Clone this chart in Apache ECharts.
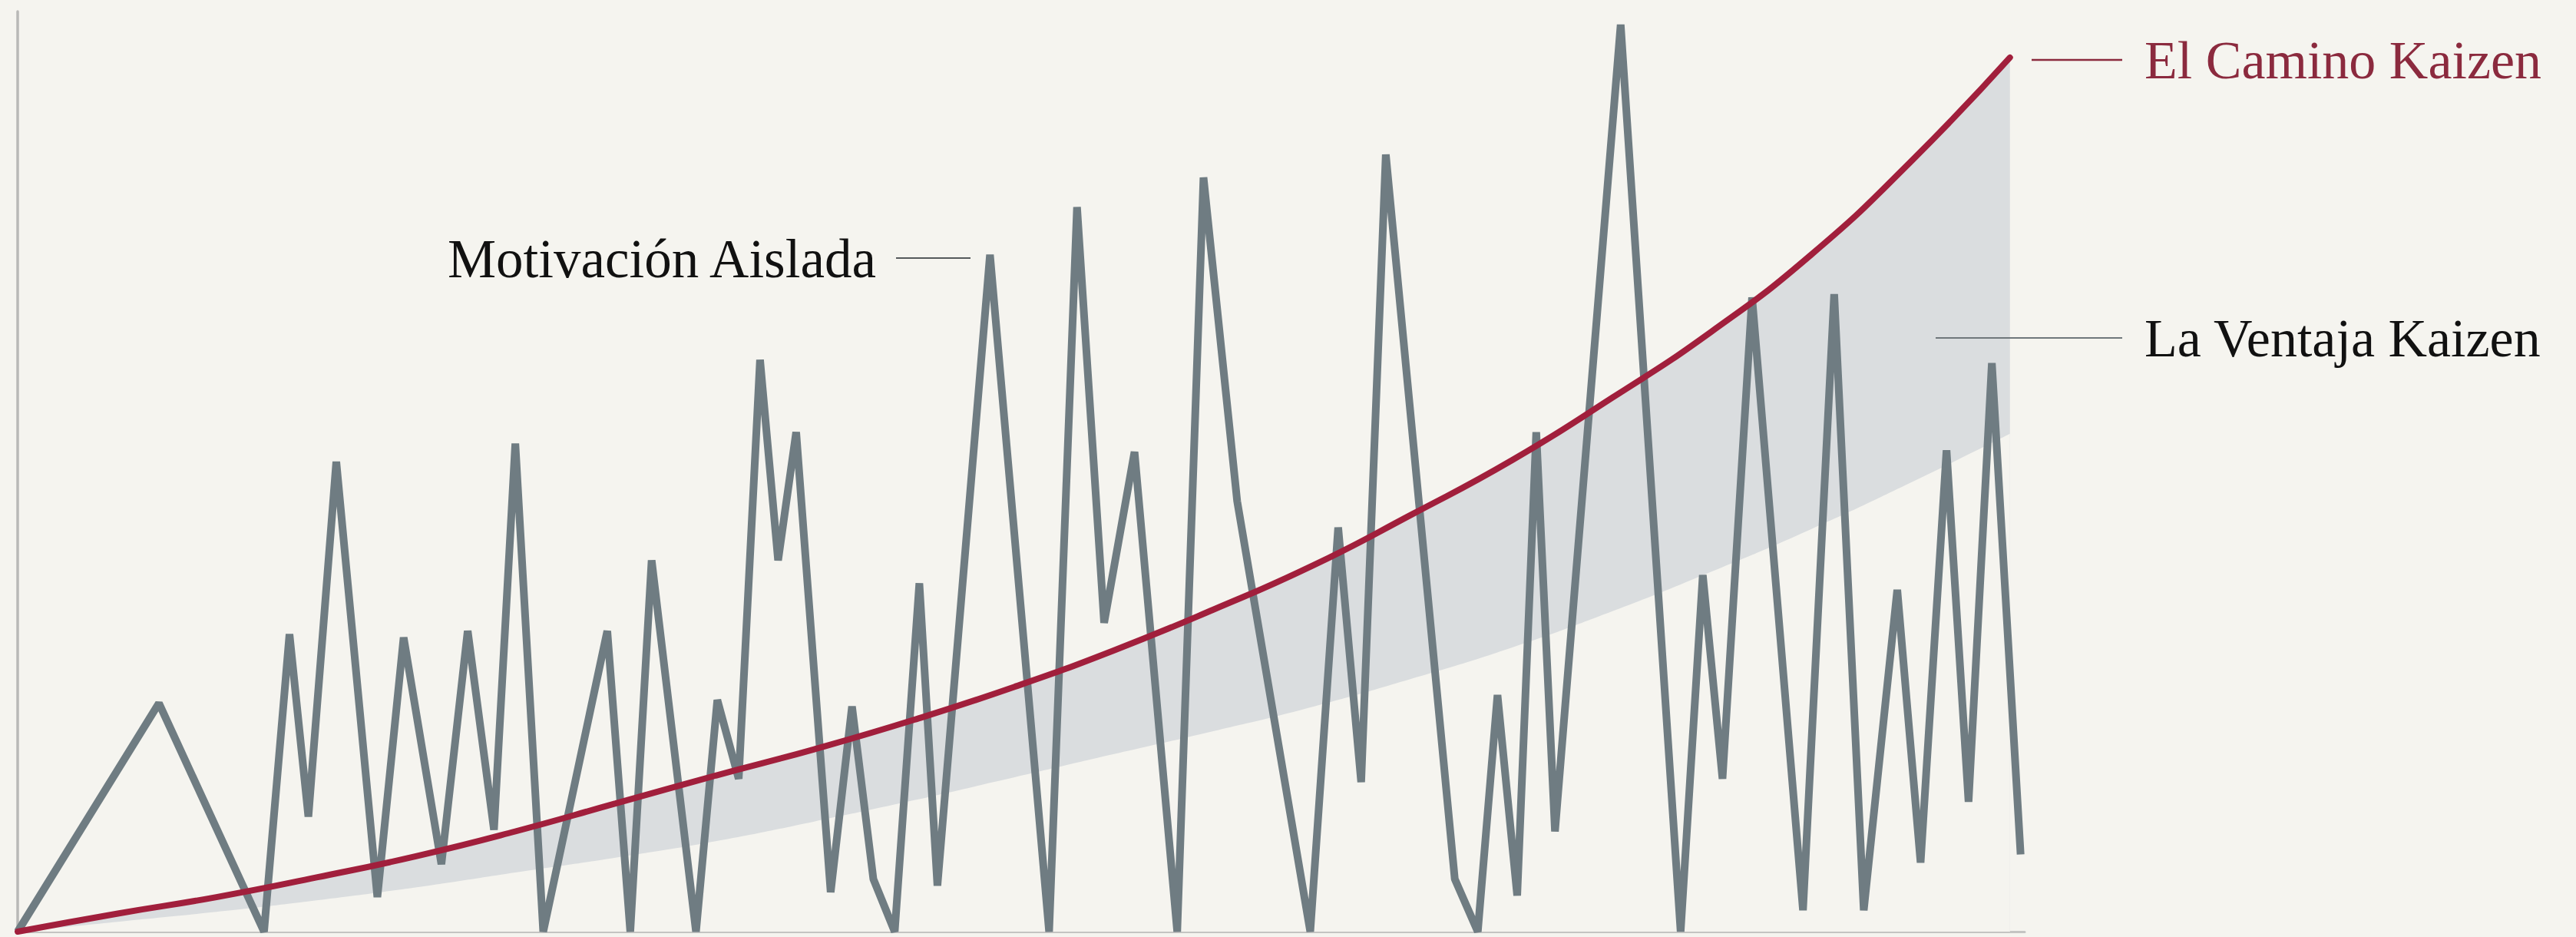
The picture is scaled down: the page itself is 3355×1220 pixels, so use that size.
<!DOCTYPE html>
<html>
<head>
<meta charset="utf-8">
<script src="https://cdn.jsdelivr.net/npm/echarts@6/dist/echarts.min.js"></script>
<style>
html,body{margin:0;padding:0;background:#f5f4ef;}
#chart{width:3355px;height:1220px;}
</style>
</head>
<body>
<div id="chart"></div>
<script>
// Series: "Motivación Aislada" (jagged grey line) — x positions and values
const motivacionX = [0, 86, 150, 165.5, 177, 194, 219, 235, 258, 274, 290, 303, 320, 359, 373, 386, 413, 426, 439, 452, 463, 474, 495, 508, 521, 534, 549, 560, 592, 628, 645, 661.5, 680, 706, 722, 742.5, 787, 804, 818, 833, 875, 889, 901, 913, 924.6, 936, 976, 1012.5, 1026, 1038, 1056, 1087, 1106, 1124, 1144.4, 1158.6, 1174.4, 1187.8, 1202, 1219.5];
const motivacionY = [0, 139, 0, 181, 70, 286, 21, 179, 41, 183, 62, 297, 0, 183, 0, 226, 0, 141, 93, 348, 226, 304, 24, 137, 32, 0, 212, 28, 412, 0, 441, 188, 292, 0, 459, 262, 0, 246, 91, 473, 32, 0, 144, 22, 304, 61, 552, 0, 217, 93, 386, 13, 388, 13, 208, 42, 293, 79, 346, 47];

// Series: "El Camino Kaizen" (red curve)
const kaizenX = [0, 61, 121, 182, 243, 303, 364, 425, 485, 546, 607, 667, 728, 789, 849, 910, 971, 1031, 1092, 1152, 1213];
const kaizenY = [0, 11, 21, 33, 46, 61, 78, 95, 111, 129, 149, 171, 196, 223, 254, 287, 325, 365, 412, 468, 532];

// Lower edge of "La Ventaja Kaizen" band (upper edge is the red curve)
const ventajaLowY = [0, 6, 12, 19, 27, 36, 45, 55, 67, 80, 94, 108, 122, 137, 154, 173, 195, 219, 245, 273, 303];

// Labels
const labelMotivacion = 'Motivación Aislada';
const labelCamino = 'El Camino Kaizen';
const labelVentaja = 'La Ventaja Kaizen';

const BG = '#f5f4ef';
const pairs = (xs, ys) => xs.map((x, i) => [x, ys[i]]);

const chart = echarts.init(document.getElementById('chart'), null, {renderer: 'svg'});
const serif = '"Liberation Serif", "DejaVu Serif", serif';

chart.setOption({
  backgroundColor: BG,
  animation: false,
  grid: {left: 23, right: 718, top: 15, bottom: 7, containLabel: false},
  xAxis: {
    type: 'value', min: 0, max: 1222,
    axisLine: {show: true, onZero: false, lineStyle: {color: '#c4c4c2', width: 3}},
    axisTick: {show: false}, axisLabel: {show: false}, splitLine: {show: false}
  },
  yAxis: {
    type: 'value', min: 0, max: 560,
    axisLine: {show: true, onZero: false, lineStyle: {color: '#b9b9b7', width: 3.5}},
    axisTick: {show: false}, axisLabel: {show: false}, splitLine: {show: false}
  },
  series: [
    {
      // band: grey fill under the red curve
      name: labelVentaja, type: 'line', smooth: true, symbol: 'none',
      data: pairs(kaizenX, kaizenY), lineStyle: {opacity: 0, width: 0},
      areaStyle: {color: '#dadddf', opacity: 1}, z: 1, silent: true
    },
    {
      // band lower edge: paper-coloured fill below it
      name: 'ventajaLow', type: 'line', smooth: true, symbol: 'none',
      data: pairs(kaizenX, ventajaLowY), lineStyle: {opacity: 0, width: 0},
      areaStyle: {color: BG, opacity: 1}, z: 1, silent: true
    },
    {
      name: labelMotivacion, type: 'line', symbol: 'none', smooth: false,
      data: pairs(motivacionX, motivacionY),
      lineStyle: {color: '#6f7c82', width: 10, join: 'bevel', cap: 'butt'},
      z: 2
    },
    {
      name: labelCamino, type: 'line', symbol: 'none', smooth: true,
      data: pairs(kaizenX, kaizenY),
      lineStyle: {color: '#a11f3c', width: 8, cap: 'round'},
      z: 3
    }
  ],
  graphic: [
    {type: 'text', x: 1141, y: 337, z: 10, style: {text: labelMotivacion, font: '71px ' + serif, fill: '#111111', align: 'right', verticalAlign: 'middle', textAlign: 'right', textVerticalAlign: 'middle'}},
    {type: 'line', z: 10, shape: {x1: 1167, y1: 336, x2: 1264, y2: 336}, style: {stroke: '#555a5c', lineWidth: 2}},
    {type: 'line', z: 10, shape: {x1: 2646, y1: 78, x2: 2764, y2: 78}, style: {stroke: '#8b2a3e', lineWidth: 2.5}},
    {type: 'text', x: 2793, y: 78, z: 10, style: {text: labelCamino, font: '70px ' + serif, fill: '#8b2a3e', align: 'left', verticalAlign: 'middle', textAlign: 'left', textVerticalAlign: 'middle'}},
    {type: 'line', z: 10, shape: {x1: 2521, y1: 440, x2: 2764, y2: 440}, style: {stroke: '#6f777b', lineWidth: 2}},
    {type: 'text', x: 2793, y: 440, z: 10, style: {text: labelVentaja, font: '70px ' + serif, fill: '#111111', align: 'left', verticalAlign: 'middle', textAlign: 'left', textVerticalAlign: 'middle'}}
  ]
});
</script>
</body>
</html>
